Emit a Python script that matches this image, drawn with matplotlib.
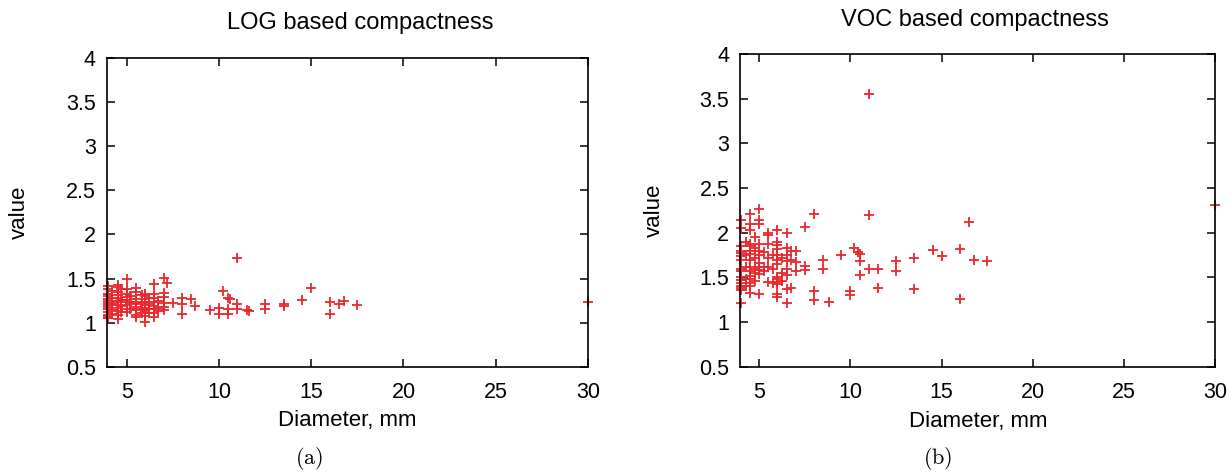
import matplotlib
matplotlib.use("Agg")
import matplotlib.pyplot as plt
import numpy as np

plt.rcParams['font.family'] = ['Liberation Sans', 'DejaVu Sans']
plt.rcParams['mathtext.fontset'] = 'cm'

# LOG based compactness: (diameter, value)
log_d = [4.0]*14 + [4.2]*5 + [4.5]*12 + [4.7]*4 + [5.0]*9 + [5.2]*3 + [5.5]*9 + [5.8]*4 \
    + [6.0]*10 + [6.2]*4 + [6.5]*8 + [6.7]*3 + [7.0]*6 + [7.2] \
    + [7.5, 8.0, 8.0, 8.0, 8.5, 8.7, 9.5, 10.0, 10.0, 10.2, 10.5, 10.6, 10.5, 10.5,
       11.0, 11.0, 11.0, 11.5, 11.6, 12.5, 12.5, 13.5, 13.5, 14.5, 15.0, 16.0, 16.0,
       16.5, 16.8, 17.5, 30.0]
log_v = [1.42, 1.38, 1.33, 1.30, 1.27, 1.25, 1.22, 1.20, 1.18, 1.15, 1.12, 1.09, 1.07, 1.05,
         1.36, 1.28, 1.21, 1.14, 1.10,
         1.43, 1.41, 1.35, 1.31, 1.28, 1.25, 1.23, 1.20, 1.17, 1.13, 1.09, 1.04,
         1.38, 1.26, 1.19, 1.12,
         1.50, 1.38, 1.33, 1.29, 1.26, 1.23, 1.20, 1.16, 1.12,
         1.30, 1.22, 1.15,
         1.39, 1.35, 1.27, 1.24, 1.21, 1.18, 1.14, 1.09, 1.06,
         1.31, 1.22, 1.16, 1.11,
         1.33, 1.30, 1.27, 1.24, 1.20, 1.17, 1.14, 1.12, 1.08, 1.01,
         1.28, 1.21, 1.15, 1.11,
         1.44, 1.33, 1.28, 1.23, 1.19, 1.15, 1.11, 1.07,
         1.25, 1.17, 1.13,
         1.51, 1.34, 1.29, 1.22, 1.18, 1.14,
         1.45,
         1.22, 1.28, 1.21, 1.10, 1.27, 1.19, 1.14, 1.10, 1.17, 1.36, 1.28, 1.27, 1.10, 1.16,
         1.73, 1.21, 1.16, 1.14, 1.13, 1.21, 1.16, 1.21, 1.19, 1.26, 1.39, 1.24, 1.10,
         1.21, 1.25, 1.20, 1.24]

# VOC based compactness: (diameter, value)
voc_d = [4.0]*16 + [4.25]*5 + [4.5]*15 + [4.75]*6 + [5.0]*11 + [5.25]*3 + [5.5]*6 + [5.75]*3 \
    + [6.0]*13 + [6.25]*3 + [6.5]*8 + [6.75]*3 + [7.0]*3 \
    + [7.5, 7.5, 7.5, 8.0, 8.0, 8.0, 8.5, 8.5, 8.8, 9.5, 10.0, 10.0, 10.2, 10.4, 10.5,
       10.5, 10.5, 11.0, 11.0, 11.0, 11.5, 11.5, 12.5, 12.5, 13.5, 13.5, 14.5, 15.0,
       16.0, 16.0, 16.5, 16.75, 17.5, 30.0]
voc_v = [2.14, 2.05, 1.85, 1.80, 1.77, 1.74, 1.70, 1.60, 1.57, 1.50, 1.47, 1.44, 1.41, 1.38, 1.36, 1.22,
         1.90, 1.75, 1.62, 1.48, 1.40,
         2.21, 2.10, 2.03, 1.88, 1.85, 1.80, 1.76, 1.70, 1.62, 1.57, 1.52, 1.48, 1.44, 1.41, 1.33,
         1.95, 1.83, 1.72, 1.60, 1.55, 1.46,
         2.27, 2.14, 2.10, 1.87, 1.80, 1.75, 1.66, 1.62, 1.58, 1.54, 1.31,
         1.78, 1.62, 1.57,
         2.00, 1.98, 1.87, 1.72, 1.62, 1.45,
         1.75, 1.60, 1.44,
         2.03, 1.90, 1.86, 1.82, 1.75, 1.70, 1.65, 1.50, 1.48, 1.45, 1.43, 1.32, 1.28,
         1.72, 1.55, 1.46,
         2.00, 1.83, 1.75, 1.68, 1.60, 1.53, 1.37, 1.22,
         1.80, 1.70, 1.38,
         1.80, 1.67, 1.57,
         2.07, 1.63, 1.58, 2.21, 1.35, 1.25, 1.70, 1.59, 1.23, 1.75, 1.35, 1.30, 1.83, 1.79, 1.76,
         1.68, 1.53, 3.55, 2.20, 1.59, 1.59, 1.38, 1.68, 1.57, 1.72, 1.37, 1.81, 1.74,
         1.82, 1.26, 2.12, 1.70, 1.68, 2.31]

titles = ['LOG based compactness', 'VOC based compactness']
captions = ['(a)', '(b)']
xticks = [5, 10, 15, 20, 25, 30]
yticks = [0.5, 1, 1.5, 2, 2.5, 3, 3.5, 4]
ytick_labels = ['0.5', '1', '1.5', '2', '2.5', '3', '3.5', '4']

fig = plt.figure(figsize=(12.3, 4.74), dpi=100)
ax1 = fig.add_axes([0.087, 0.226, 0.391, 0.652])
ax2 = fig.add_axes([0.602, 0.226, 0.386, 0.660])

red = '#e8282d'
panels = [(ax1, log_d, log_v, 3.93), (ax2, voc_d, voc_v, 3.97)]
for ax, d, v, xmin in panels:
    ax.plot(d, v, '+', color=red, markersize=7, markeredgewidth=1.3, clip_on=False)
    ax.set_xlim(xmin, 30)
    ax.set_ylim(0.5, 4)
    ax.set_xticks(xticks)
    ax.set_yticks(yticks)
    ax.set_yticklabels(ytick_labels)
    ax.tick_params(direction='in', top=True, right=True, length=6, width=1.1,
                   labelsize=15.5)
    ax.tick_params(axis='x', pad=11)
    ax.tick_params(axis='y', pad=8)
    for s in ax.spines.values():
        s.set_linewidth(1.2)
    ax.set_xlabel('Diameter, mm', fontsize=16)
    ax.set_ylabel('value', fontsize=16)
    ax.xaxis.set_label_coords(0.5, -0.14)
    ax.yaxis.set_label_coords(-0.16, 0.5)

fig.text(360 / 1230, 1 - 23 / 474, titles[0], fontsize=17, ha='center', va='center')
fig.text(975 / 1230, 1 - 20 / 474, titles[1], fontsize=17, ha='center', va='center')

fig.text(309 / 1230, 1 - 458 / 474, r'$\mathrm{' + captions[0] + '}$', fontsize=16,
         ha='center', va='center')
fig.text(938 / 1230, 1 - 458 / 474, r'$\mathrm{' + captions[1] + '}$', fontsize=16,
         ha='center', va='center')

fig.savefig('out.png', dpi=100)
